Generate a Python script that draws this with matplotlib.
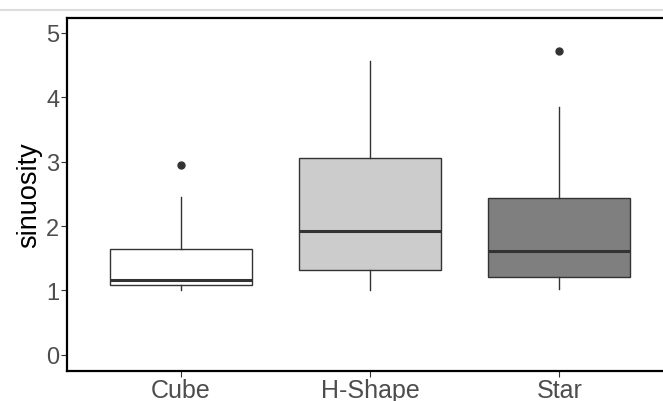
import matplotlib.pyplot as plt
from matplotlib.lines import Line2D

# values
shapes = ['Cube', 'H-Shape', 'Star']
whisker_low = [1.01, 1.01, 1.025]
q1 = [1.087, 1.325, 1.216]
medians = [1.165, 1.92, 1.61]
q3 = [1.646, 3.05, 2.43]
whisker_high = [2.45, 4.57, 3.85]
outliers = [[2.955], [], [4.71]]
fills = ['#FFFFFF', '#CCCCCC', '#7F7F7F']

plt.rcParams['font.family'] = ['Liberation Sans', 'DejaVu Sans']

fig = plt.figure(figsize=(6.63, 4.02), dpi=100)
ax = fig.add_axes([67 / 663, 30 / 402, 606 / 663, 353 / 402])

stats = []
for i, name in enumerate(shapes):
    stats.append({'label': name, 'whislo': whisker_low[i], 'q1': q1[i],
                  'med': medians[i], 'q3': q3[i], 'whishi': whisker_high[i],
                  'fliers': outliers[i]})

edge = '#333333'
bp = ax.bxp(stats, positions=[1, 2, 3], widths=0.75, patch_artist=True,
            showcaps=False,
            boxprops=dict(edgecolor=edge, linewidth=1.0),
            whiskerprops=dict(color=edge, linewidth=1.0),
            medianprops=dict(color=edge, linewidth=2.2),
            flierprops=dict(marker='o', markerfacecolor=edge, markeredgecolor=edge,
                            markersize=5))
for patch, c in zip(bp['boxes'], fills):
    patch.set_facecolor(c)

ax.set_xlim(0.4, 3.6)
ax.set_ylim(-0.25, 5.23)
ax.set_yticks([0, 1, 2, 3, 4, 5])
ax.set_xticks([1, 2, 3])
ax.set_xticklabels(shapes)

for s in ax.spines.values():
    s.set_linewidth(1.6)
    s.set_color('black')

ax.tick_params(axis='both', length=4, width=0.8, color='#333333', labelcolor='#4D4D4D', pad=1.5)
ax.tick_params(axis='y', labelsize=17)
ax.tick_params(axis='x', labelsize=18, pad=1)
ax.set_ylabel('sinuosity', fontsize=19.5, color='black', labelpad=3)

# thin grey separator line at the very top of the picture
fig.add_artist(Line2D([0, 1], [1 - 11 / 402, 1 - 11 / 402], color='#DDDDDD', linewidth=1.5))

fig.savefig('out.png', dpi=100)
